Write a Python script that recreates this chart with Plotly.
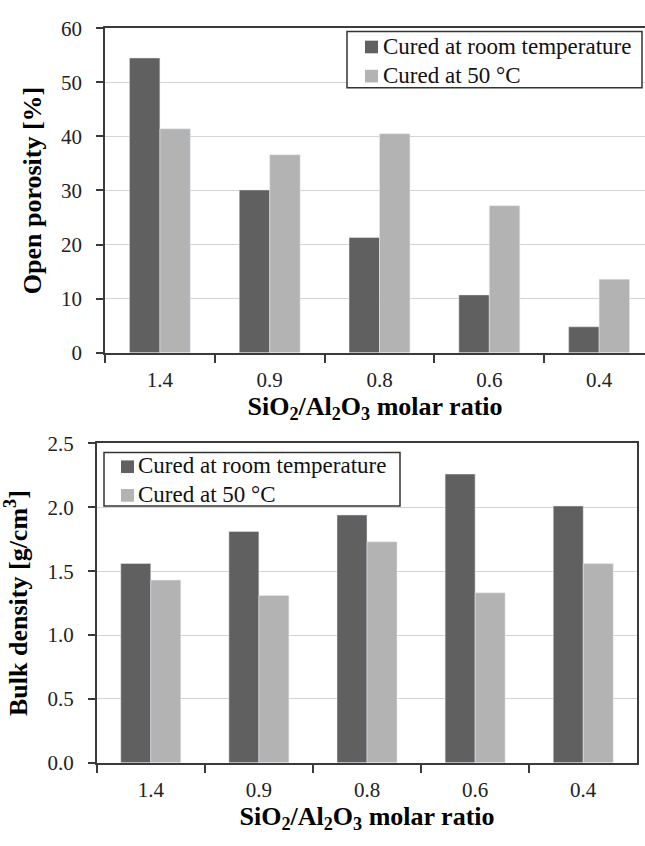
import plotly.graph_objects as go

categories = ["1.4", "0.9", "0.8", "0.6", "0.4"]
series_names = ["Cured at room temperature", "Cured at 50 °C"]
porosity_room = [54.5, 30.1, 21.3, 10.7, 4.8]
porosity_50 = [41.4, 36.6, 40.5, 27.2, 13.6]
density_room = [1.56, 1.81, 1.94, 2.26, 2.01]
density_50 = [1.43, 1.31, 1.73, 1.33, 1.56]
porosity_ticks = [0, 10, 20, 30, 40, 50, 60]
density_ticks = [0.0, 0.5, 1.0, 1.5, 2.0, 2.5]
density_ticklabels = ["0.0", "0.5", "1.0", "1.5", "2.0", "2.5"]

DARK = "#606060"
LIGHT = "#b3b3b3"
COLORS = [DARK, LIGHT]
AX = "#3a3a3a"
GRID = "#d4d4d4"
FONT = "Liberation Serif, Times New Roman, serif"
W, H = 645, 846

fig = go.Figure()
fig.add_trace(go.Bar(x=categories, y=porosity_room, name=series_names[0], marker_color=DARK,
                     xaxis="x", yaxis="y", showlegend=False))
fig.add_trace(go.Bar(x=categories, y=porosity_50, name=series_names[1], marker_color=LIGHT,
                     xaxis="x", yaxis="y", showlegend=False))
fig.add_trace(go.Bar(x=categories, y=density_room, name=series_names[0], marker_color=DARK,
                     xaxis="x2", yaxis="y2", showlegend=False))
fig.add_trace(go.Bar(x=categories, y=density_50, name=series_names[1], marker_color=LIGHT,
                     xaxis="x2", yaxis="y2", showlegend=False))

def px_x(p):
    return p / W

def px_y(p):
    return 1 - p / H

tick_font = dict(family=FONT, size=21, color="#222")
title_font = dict(family=FONT, size=26, color="#000")
xtitle = "<b>SiO<sub>2</sub>/Al<sub>2</sub>O<sub>3</sub> molar ratio</b>"

common_x = dict(type="category", showgrid=False, showline=True, linecolor=AX, linewidth=1.5,
                ticks="outside", tickson="boundaries", ticklen=8, tickcolor=AX, tickwidth=1.5,
                tickfont=tick_font, zeroline=False, ticklabelstandoff=7)
common_y = dict(showgrid=True, gridcolor=GRID, gridwidth=1, showline=True, linecolor=AX,
                linewidth=1.5, ticks="outside", ticklen=7, tickcolor=AX, tickwidth=1.5,
                tickfont=tick_font, zeroline=False, ticklabelstandoff=10)

fig.update_layout(
    width=W, height=H, margin=dict(l=0, r=0, t=0, b=0),
    paper_bgcolor="white", plot_bgcolor="white",
    barmode="group", bargap=0.445, bargroupgap=0,
    font=dict(family=FONT),
    showlegend=False,
    xaxis=dict(common_x, domain=[px_x(105), 1.0], range=[-0.5, 4.418], anchor="y", mirror=True,
               title=dict(text=xtitle, font=title_font, standoff=4)),
    yaxis=dict(common_y, domain=[px_y(350.7), px_y(16.7)], range=[0, 60], anchor="x",
               tickvals=porosity_ticks,
               title=dict(text="<b>Open porosity [%]</b>", font=title_font, standoff=12)),
    xaxis2=dict(common_x, domain=[px_x(96.7), px_x(637.3)], range=[-0.5, 4.5], anchor="y2", mirror=True,
                title=dict(text=xtitle, font=title_font, standoff=4)),
    yaxis2=dict(common_y, domain=[px_y(772.7), px_y(444)], range=[0, 2.5], anchor="x2", mirror=True,
                tickvals=density_ticks, ticktext=density_ticklabels,
                title=dict(text="<b>Bulk density [g/cm<sup>3</sup>]</b>", font=title_font, standoff=12)),
)

# Legend boxes drawn like the reference (box, square swatches, text)
def add_legend(x0, y0, x1, y1, sw_x, row_centers, text_x):
    fig.add_shape(type="rect", xref="paper", yref="paper",
                  x0=px_x(x0), x1=px_x(x1), y0=px_y(y1), y1=px_y(y0),
                  line=dict(color="#333", width=1.5), fillcolor="white", layer="above")
    for name, color, cy in zip(series_names, COLORS, row_centers):
        fig.add_shape(type="rect", xref="paper", yref="paper",
                      x0=px_x(sw_x), x1=px_x(sw_x + 13), y0=px_y(cy + 7.5), y1=px_y(cy - 5.5),
                      line=dict(width=0), fillcolor=color, layer="above")
        fig.add_annotation(xref="paper", yref="paper", x=px_x(text_x), y=px_y(cy),
                           xanchor="left", yanchor="middle", showarrow=False, text=name,
                           font=dict(family=FONT, size=23, color="#111"))

add_legend(347, 20, 642, 78, 365, [35, 65], 381)
add_legend(104, 453.3, 400, 508.3, 121, [467, 496.5], 136)

fig.write_html("out.html")
